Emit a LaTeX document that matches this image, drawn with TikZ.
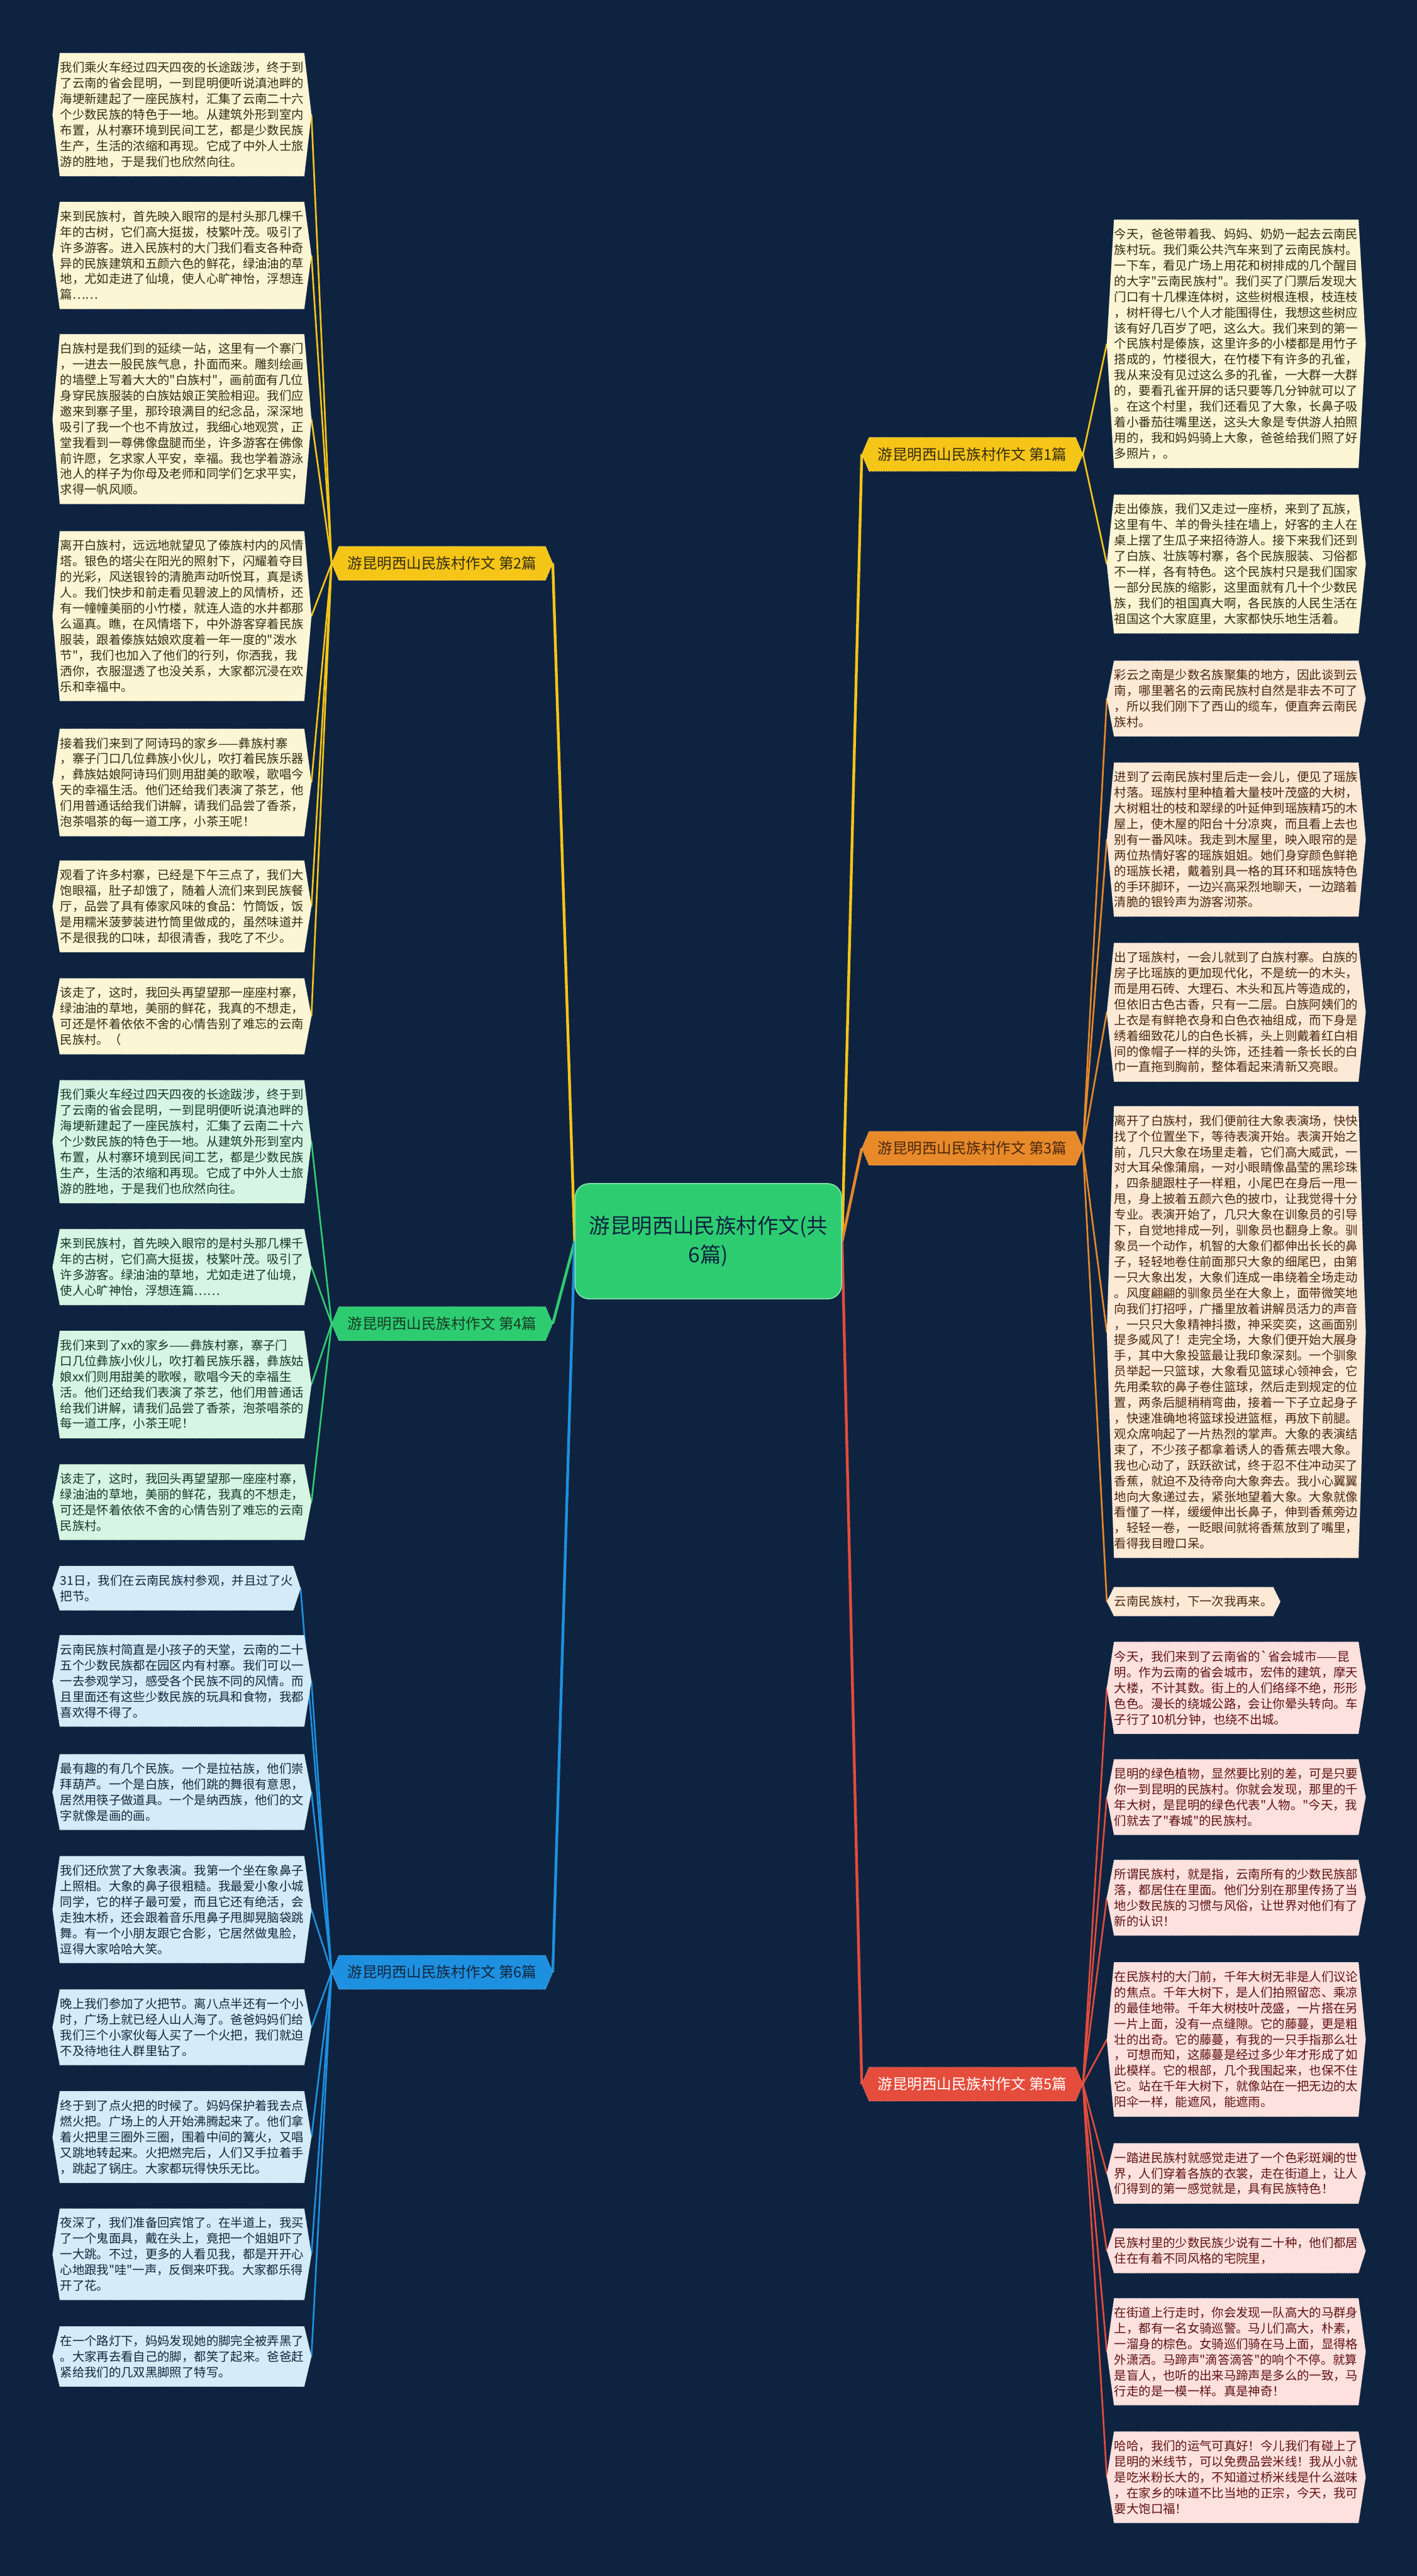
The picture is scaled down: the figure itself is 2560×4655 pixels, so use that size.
\documentclass[tikz,border=0pt]{standalone}
\usepackage{fontspec}
\newfontfamily\cjk{Noto Sans CJK SC}
\usetikzlibrary{backgrounds}

\definecolor{canvas}{RGB}{14,35,63}
\definecolor{gold}{RGB}{245,197,24}
\definecolor{amber}{RGB}{232,137,42}
\definecolor{leafgreen}{RGB}{46,204,113}
\definecolor{rosered}{RGB}{228,76,60}
\definecolor{azure}{RGB}{30,144,224}
\definecolor{creamfill}{RGB}{253,246,212}
\definecolor{peachfill}{RGB}{252,233,214}
\definecolor{mintfill}{RGB}{214,245,226}
\definecolor{skyfill}{RGB}{212,235,248}
\definecolor{pinkfill}{RGB}{252,225,222}
\definecolor{creamtext}{RGB}{52,44,22}
\definecolor{peachtext}{RGB}{74,40,15}
\definecolor{minttext}{RGB}{22,58,36}
\definecolor{skytext}{RGB}{20,38,60}
\definecolor{pinktext}{RGB}{96,18,18}

\tikzset{
  leaf/.style={font={\cjk\fontsize{6.26pt}{8.05pt}\selectfont}, align=left,
    inner xsep=0pt, inner ysep=0.15cm, anchor=north west},
  essay/.style={font={\cjk\fontsize{7.6pt}{9pt}\selectfont}, inner xsep=0.15cm,
    minimum height=0.6cm, minimum width=3.72cm},
  twig/.style={line width=0.03cm},
  limb/.style={line width=0.05cm}
}

\begin{document}
\begin{tikzpicture}[x=0.01cm, y=-0.01cm]
\useasboundingbox (0,0) rectangle (2560,4655);

% Nodes
\node[draw=leafgreen!60!white, line width=0.02cm, fill=leafgreen, rounded corners=0.25cm,
  minimum width=4.81cm, minimum height=2.08cm, align=center, text=canvas,
  font={\cjk\fontsize{10.8pt}{15pt}\selectfont}] (root) at (1280,2243)
  {游昆明西山民族村作文(共\\6篇)};

\node[essay, text=creamtext] (essay1) at (1757,821) {游昆明西山民族村作文 第1篇};
\node[essay, text=creamtext] (essay2) at (799,1018) {游昆明西山民族村作文 第2篇};
\node[essay, text=peachtext] (essay3) at (1757,2075) {游昆明西山民族村作文 第3篇};
\node[essay, text=minttext] (essay4) at (799,2392) {游昆明西山民族村作文 第4篇};
\node[essay, text=white] (essay5) at (1757,3766) {游昆明西山民族村作文 第5篇};
\node[essay, text=skytext] (essay6) at (799,3564) {游昆明西山民族村作文 第6篇};

% essay 2
\node[leaf, text=creamtext] (e2p1) at (108,96) {我们乘火车经过四天四夜的长途跋涉，终于到\\了云南的省会昆明，一到昆明便听说滇池畔的\\海埂新建起了一座民族村，汇集了云南二十六\\个少数民族的特色于一地。从建筑外形到室内\\布置，从村寨环境到民间工艺，都是少数民族\\生产，生活的浓缩和再现。它成了中外人士旅\\游的胜地，于是我们也欣然向往。};
\node[leaf, text=creamtext] (e2p2) at (108,365) {来到民族村，首先映入眼帘的是村头那几棵千\\年的古树，它们高大挺拔，枝繁叶茂。吸引了\\许多游客。进入民族村的大门我们看支各种奇\\异的民族建筑和五颜六色的鲜花，绿油油的草\\地，尤如走进了仙境，使人心旷神怡，浮想连\\篇……};
\node[leaf, text=creamtext] (e2p3) at (108,604) {白族村是我们到的延续一站，这里有一个寨门\\，一进去一股民族气息，扑面而来。雕刻绘画\\的墙壁上写着大大的"白族村"，画前面有几位\\身穿民族服装的白族姑娘正笑脸相迎。我们应\\邀来到寨子里，那玲琅满目的纪念品，深深地\\吸引了我一个也不肯放过，我细心地观赏，正\\堂我看到一尊佛像盘腿而坐，许多游客在佛像\\前许愿，乞求家人平安，幸福。我也学着游泳\\池人的样子为你母及老师和同学们乞求平实，\\求得一帆风顺。};
\node[leaf, text=creamtext] (e2p4) at (108,960) {离开白族村，远远地就望见了傣族村内的风情\\塔。银色的塔尖在阳光的照射下，闪耀着夺目\\的光彩，风送银铃的清脆声动听悦耳，真是诱\\人。我们快步和前走看见碧波上的风情桥，还\\有一幢幢美丽的小竹楼，就连人造的水井都那\\么逼真。瞧，在风情塔下，中外游客穿着民族\\服装，跟着傣族姑娘欢度着一年一度的"泼水\\节"，我们也加入了他们的行列，你洒我，我\\洒你，衣服湿透了也没关系，大家都沉浸在欢\\乐和幸福中。};
\node[leaf, text=creamtext] (e2p5) at (108,1317) {接着我们来到了阿诗玛的家乡——彝族村寨\\，寨子门口几位彝族小伙儿，吹打着民族乐器\\，彝族姑娘阿诗玛们则用甜美的歌喉，歌唱今\\天的幸福生活。他们还给我们表演了茶艺，他\\们用普通话给我们讲解，请我们品尝了香茶，\\泡茶唱茶的每一道工序，小茶王呢！};
\node[leaf, text=creamtext] (e2p6) at (108,1555) {观看了许多村寨，已经是下午三点了，我们大\\饱眼福，肚子却饿了，随着人流们来到民族餐\\厅，品尝了具有傣家风味的食品：竹筒饭，饭\\是用糯米菠萝装进竹筒里做成的，虽然味道并\\不是很我的口味，却很清香，我吃了不少。};
\node[leaf, text=creamtext] (e2p7) at (108,1768) {该走了，这时，我回头再望望那一座座村寨，\\绿油油的草地，美丽的鲜花，我真的不想走，\\可还是怀着依依不舍的心情告别了难忘的云南\\民族村。（};

% essay 4
\node[leaf, text=minttext] (e4p1) at (108,1952) {我们乘火车经过四天四夜的长途跋涉，终于到\\了云南的省会昆明，一到昆明便听说滇池畔的\\海埂新建起了一座民族村，汇集了云南二十六\\个少数民族的特色于一地。从建筑外形到室内\\布置，从村寨环境到民间工艺，都是少数民族\\生产，生活的浓缩和再现。它成了中外人士旅\\游的胜地，于是我们也欣然向往。};
\node[leaf, text=minttext] (e4p2) at (108,2221) {来到民族村，首先映入眼帘的是村头那几棵千\\年的古树，它们高大挺拔，枝繁叶茂。吸引了\\许多游客。绿油油的草地，尤如走进了仙境，\\使人心旷神怡，浮想连篇……};
\node[leaf, text=minttext] (e4p3) at (108,2405) {我们来到了xx的家乡——彝族村寨，寨子门\\口几位彝族小伙儿，吹打着民族乐器，彝族姑\\娘xx们则用甜美的歌喉，歌唱今天的幸福生\\活。他们还给我们表演了茶艺，他们用普通话\\给我们讲解，请我们品尝了香茶，泡茶唱茶的\\每一道工序，小茶王呢！};
\node[leaf, text=minttext] (e4p4) at (108,2646) {该走了，这时，我回头再望望那一座座村寨，\\绿油油的草地，美丽的鲜花，我真的不想走，\\可还是怀着依依不舍的心情告别了难忘的云南\\民族村。};

% essay 6
\node[leaf, text=skytext] (e6p1) at (108,2830) {31日，我们在云南民族村参观，并且过了火\\把节。};
\node[leaf, text=skytext] (e6p2) at (108,2955) {云南民族村简直是小孩子的天堂，云南的二十\\五个少数民族都在园区内有村寨。我们可以一\\一去参观学习，感受各个民族不同的风情。而\\且里面还有这些少数民族的玩具和食物，我都\\喜欢得不得了。};
\node[leaf, text=skytext] (e6p3) at (108,3170) {最有趣的有几个民族。一个是拉祜族，他们崇\\拜葫芦。一个是白族，他们跳的舞很有意思，\\居然用筷子做道具。一个是纳西族，他们的文\\字就像是画的画。};
\node[leaf, text=skytext] (e6p4) at (108,3354) {我们还欣赏了大象表演。我第一个坐在象鼻子\\上照相。大象的鼻子很粗糙。我最爱小象小城\\同学，它的样子最可爱，而且它还有绝活，会\\走独木桥，还会跟着音乐甩鼻子甩脚晃脑袋跳\\舞。有一个小朋友跟它合影，它居然做鬼脸，\\逗得大家哈哈大笑。};
\node[leaf, text=skytext] (e6p5) at (108,3595) {晚上我们参加了火把节。离八点半还有一个小\\时，广场上就已经人山人海了。爸爸妈妈们给\\我们三个小家伙每人买了一个火把，我们就迫\\不及待地往人群里钻了。};
\node[leaf, text=skytext] (e6p6) at (108,3779) {终于到了点火把的时候了。妈妈保护着我去点\\燃火把。广场上的人开始沸腾起来了。他们拿\\着火把里三圈外三圈，围着中间的篝火，又唱\\又跳地转起来。火把燃完后，人们又手拉着手\\，跳起了锅庄。大家都玩得快乐无比。};
\node[leaf, text=skytext] (e6p7) at (108,3991) {夜深了，我们准备回宾馆了。在半道上，我买\\了一个鬼面具，戴在头上，竟把一个姐姐吓了\\一大跳。不过，更多的人看见我，都是开开心\\心地跟我"哇"一声，反倒来吓我。大家都乐得\\开了花。};
\node[leaf, text=skytext] (e6p8) at (108,4204) {在一个路灯下，妈妈发现她的脚完全被弄黑了\\。大家再去看自己的脚，都笑了起来。爸爸赶\\紧给我们的几双黑脚照了特写。};

% essay 1
\node[leaf, text=creamtext] (e1p1) at (2013,397) {今天，爸爸带着我、妈妈、奶奶一起去云南民\\族村玩。我们乘公共汽车来到了云南民族村。\\一下车，看见广场上用花和树排成的几个醒目\\的大字"云南民族村"。我们买了门票后发现大\\门口有十几棵连体树，这些树根连根，枝连枝\\，树杆得七八个人才能围得住，我想这些树应\\该有好几百岁了吧，这么大。我们来到的第一\\个民族村是傣族，这里许多的小楼都是用竹子\\搭成的，竹楼很大，在竹楼下有许多的孔雀，\\我从来没有见过这么多的孔雀，一大群一大群\\的，要看孔雀开屏的话只要等几分钟就可以了\\。在这个村里，我们还看见了大象，长鼻子吸\\着小番茄往嘴里送，这头大象是专供游人拍照\\用的，我和妈妈骑上大象，爸爸给我们照了好\\多照片，。};
\node[leaf, text=creamtext] (e1p2) at (2013,894) {走出傣族，我们又走过一座桥，来到了瓦族，\\这里有牛、羊的骨头挂在墙上，好客的主人在\\桌上摆了生瓜子来招待游人。接下来我们还到\\了白族、壮族等村寨，各个民族服装、习俗都\\不一样，各有特色。这个民族村只是我们国家\\一部分民族的缩影，这里面就有几十个少数民\\族，我们的祖国真大啊，各民族的人民生活在\\祖国这个大家庭里，大家都快乐地生活着。};

% essay 3
\node[leaf, text=peachtext] (e3p1) at (2013,1194) {彩云之南是少数名族聚集的地方，因此谈到云\\南，哪里著名的云南民族村自然是非去不可了\\，所以我们刚下了西山的缆车，便直奔云南民\\族村。};
\node[leaf, text=peachtext] (e3p2) at (2013,1378) {进到了云南民族村里后走一会儿，便见了瑶族\\村落。瑶族村里种植着大量枝叶茂盛的大树，\\大树粗壮的枝和翠绿的叶延伸到瑶族精巧的木\\屋上，使木屋的阳台十分凉爽，而且看上去也\\别有一番风味。我走到木屋里，映入眼帘的是\\两位热情好客的瑶族姐姐。她们身穿颜色鲜艳\\的瑶族长裙，戴着别具一格的耳环和瑶族特色\\的手环脚环，一边兴高采烈地聊天，一边踏着\\清脆的银铃声为游客沏茶。};
\node[leaf, text=peachtext] (e3p3) at (2013,1704) {出了瑶族村，一会儿就到了白族村寨。白族的\\房子比瑶族的更加现代化，不是统一的木头，\\而是用石砖、大理石、木头和瓦片等造成的，\\但依旧古色古香，只有一二层。白族阿姨们的\\上衣是有鲜艳衣身和白色衣袖组成，而下身是\\绣着细致花儿的白色长裤，头上则戴着红白相\\间的像帽子一样的头饰，还挂着一条长长的白\\巾一直拖到胸前，整体看起来清新又亮眼。};
\node[leaf, text=peachtext] (e3p4) at (2013,1999) {离开了白族村，我们便前往大象表演场，快快\\找了个位置坐下，等待表演开始。表演开始之\\前，几只大象在场里走着，它们高大威武，一\\对大耳朵像蒲扇，一对小眼睛像晶莹的黑珍珠\\，四条腿跟柱子一样粗，小尾巴在身后一甩一\\甩，身上披着五颜六色的披巾，让我觉得十分\\专业。表演开始了，几只大象在训象员的引导\\下，自觉地排成一列，驯象员也翻身上象。驯\\象员一个动作，机智的大象们都伸出长长的鼻\\子，轻轻地卷住前面那只大象的细尾巴，由第\\一只大象出发，大象们连成一串绕着全场走动\\。风度翩翩的驯象员坐在大象上，面带微笑地\\向我们打招呼，广播里放着讲解员活力的声音\\，一只只大象精神抖擞，神采奕奕，这画面别\\提多威风了！走完全场，大象们便开始大展身\\手，其中大象投篮最让我印象深刻。一个驯象\\员举起一只篮球，大象看见篮球心领神会，它\\先用柔软的鼻子卷住篮球，然后走到规定的位\\置，两条后腿稍稍弯曲，接着一下子立起身子\\，快速准确地将篮球投进篮框，再放下前腿。\\观众席响起了一片热烈的掌声。大象的表演结\\束了，不少孩子都拿着诱人的香蕉去喂大象。\\我也心动了，跃跃欲试，终于忍不住冲动买了\\香蕉，就迫不及待帝向大象奔去。我小心翼翼\\地向大象递过去，紧张地望着大象。大象就像\\看懂了一样，缓缓伸出长鼻子，伸到香蕉旁边\\，轻轻一卷，一眨眼间就将香蕉放到了嘴里，\\看得我目瞪口呆。};
\node[leaf, text=peachtext] (e3p5) at (2013,2868) {云南民族村，下一次我再来。};

% essay 5
\node[leaf, text=pinktext] (e5p1) at (2013,2967) {今天，我们来到了云南省的\textasciigrave 省会城市——昆\\明。作为云南的省会城市，宏伟的建筑，摩天\\大楼，不计其数。街上的人们络绎不绝，形形\\色色。漫长的绕城公路，会让你晕头转向。车\\子行了10机分钟，也绕不出城。};
\node[leaf, text=pinktext] (e5p2) at (2013,3179) {昆明的绿色植物，显然要比别的差，可是只要\\你一到昆明的民族村。你就会发现，那里的千\\年大树，是昆明的绿色代表"人物。"今天，我\\们就去了"春城"的民族村。};
\node[leaf, text=pinktext] (e5p3) at (2013,3361) {所谓民族村，就是指，云南所有的少数民族部\\落，都居住在里面。他们分别在那里传扬了当\\地少数民族的习惯与风俗，让世界对他们有了\\新的认识！};
\node[leaf, text=pinktext] (e5p4) at (2013,3546) {在民族村的大门前，千年大树无非是人们议论\\的焦点。千年大树下，是人们拍照留恋、乘凉\\的最佳地带。千年大树枝叶茂盛，一片搭在另\\一片上面，没有一点缝隙。它的藤蔓，更是粗\\壮的出奇。它的藤蔓，有我的一只手指那么壮\\，可想而知，这藤蔓是经过多少年才形成了如\\此模样。它的根部，几个我围起来，也保不住\\它。站在千年大树下，就像站在一把无边的太\\阳伞一样，能遮风，能遮雨。};
\node[leaf, text=pinktext] (e5p5) at (2013,3873) {一踏进民族村就感觉走进了一个色彩斑斓的世\\界，人们穿着各族的衣裳，走在街道上，让人\\们得到的第一感觉就是，具有民族特色！};
\node[leaf, text=pinktext] (e5p6) at (2013,4027) {民族村里的少数民族少说有二十种，他们都居\\住在有着不同风格的宅院里，};
\node[leaf, text=pinktext] (e5p7) at (2013,4153) {在街道上行走时，你会发现一队高大的马群身\\上，都有一名女骑巡警。马儿们高大，朴素，\\一溜身的棕色。女骑巡们骑在马上面，显得格\\外潇洒。马蹄声"滴答滴答"的响个不停。就算\\是盲人，也听的出来马蹄声是多么的一致，马\\行走的是一模一样。真是神奇！};
\node[leaf, text=pinktext] (e5p8) at (2013,4394) {哈哈，我们的运气可真好！今儿我们有碰上了\\昆明的米线节，可以免费品尝米线！我从小就\\是吃米粉长大的，不知道过桥米线是什么滋味\\，在家乡的味道不比当地的正宗，今天，我可\\要大饱口福！};

\begin{scope}[on background layer]
\fill[canvas] (0,0) rectangle (2560,4655);

% Connectors
\draw[limb, gold] (root.west) -- ([xshift=0.13cm]essay2.east);
\draw[limb, leafgreen] (root.west) -- ([xshift=0.13cm]essay4.east);
\draw[limb, azure] (root.west) -- ([xshift=0.13cm]essay6.east);
\draw[limb, gold] (root.east) -- ([xshift=-0.13cm]essay1.west);
\draw[limb, amber] (root.east) -- ([xshift=-0.13cm]essay3.west);
\draw[limb, rosered] (root.east) -- ([xshift=-0.13cm]essay5.west);
\foreach \n in {1,...,7} \draw[twig, gold] ([xshift=-0.13cm]essay2.west) -- ([xshift=0.13cm]e2p\n.east);
\foreach \n in {1,...,4} \draw[twig, leafgreen] ([xshift=-0.13cm]essay4.west) -- ([xshift=0.13cm]e4p\n.east);
\foreach \n in {1,...,8} \draw[twig, azure] ([xshift=-0.13cm]essay6.west) -- ([xshift=0.13cm]e6p\n.east);
\foreach \n in {1,2} \draw[twig, gold] ([xshift=0.13cm]essay1.east) -- ([xshift=-0.13cm]e1p\n.west);
\foreach \n in {1,...,5} \draw[twig, amber] ([xshift=0.13cm]essay3.east) -- ([xshift=-0.13cm]e3p\n.west);
\foreach \n in {1,...,8} \draw[twig, rosered] ([xshift=0.13cm]essay5.east) -- ([xshift=-0.13cm]e5p\n.west);

% Boxes
\foreach \n/\c in {essay1/gold, essay2/gold, essay3/amber, essay4/leafgreen, essay5/rosered, essay6/azure,
  e2p1/creamfill, e2p2/creamfill, e2p3/creamfill, e2p4/creamfill, e2p5/creamfill, e2p6/creamfill, e2p7/creamfill,
  e1p1/creamfill, e1p2/creamfill,
  e4p1/mintfill, e4p2/mintfill, e4p3/mintfill, e4p4/mintfill,
  e3p1/peachfill, e3p2/peachfill, e3p3/peachfill, e3p4/peachfill, e3p5/peachfill,
  e6p1/skyfill, e6p2/skyfill, e6p3/skyfill, e6p4/skyfill, e6p5/skyfill, e6p6/skyfill, e6p7/skyfill, e6p8/skyfill,
  e5p1/pinkfill, e5p2/pinkfill, e5p3/pinkfill, e5p4/pinkfill, e5p5/pinkfill, e5p6/pinkfill, e5p7/pinkfill, e5p8/pinkfill}
  \filldraw[fill=\c, draw=white!70!\c, densely dotted, line width=0.01cm]
    ([xshift=-0.13cm]\n.west) -- (\n.north west) -- (\n.north east)
    -- ([xshift=0.13cm]\n.east) -- (\n.south east) -- (\n.south west) -- cycle;
\end{scope}
\end{tikzpicture}
\end{document}
